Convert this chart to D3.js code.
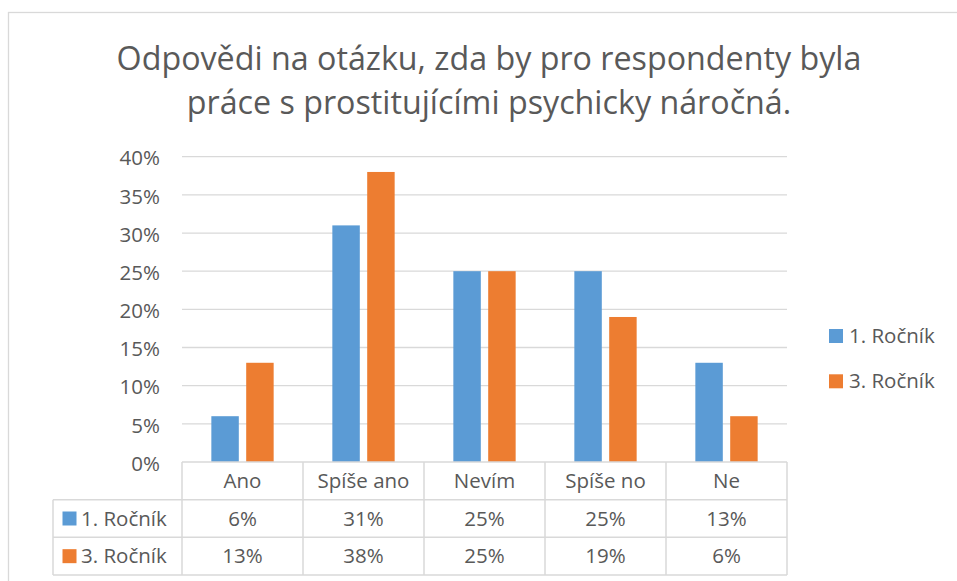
<!DOCTYPE html>
<html>
<head>
<meta charset="utf-8">
<script src="https://cdn.jsdelivr.net/npm/d3@7"></script>
<style>
  body { margin: 0; background: #fff; }
  text { font-family: "Open Sans", "Noto Sans", sans-serif; fill: #595959; }
</style>
</head>
<body>
<svg width="957" height="581"></svg>
<script>
var titleLines = ["Odpovědi na otázku, zda by pro respondenty byla", "práce s prostitujícími psychicky náročná."];
var categories = ["Ano", "Spíše ano", "Nevím", "Spíše no", "Ne"];
var seriesNames = ["1. Ročník", "3. Ročník"];
var rocnik1 = [6, 31, 25, 25, 13];
var rocnik3 = [13, 38, 25, 19, 6];
var yTicks = [0, 5, 10, 15, 20, 25, 30, 35, 40];
var colors = ["#5b9bd5", "#ed7d31"];

var seriesValues = [rocnik1, rocnik3];

var svg = d3.select("svg"),
    grid = "#d9d9d9",
    plotLeft = 182, plotRight = 787, plotTop = 156.7, plotBottom = 462,
    tableLeft = 53, tableBottom = 575;

// chart area border
svg.append("rect")
    .attr("x", 8.5).attr("y", 12.5)
    .attr("width", 1200).attr("height", 1200)
    .attr("fill", "none")
    .attr("stroke", grid)
    .attr("stroke-width", 1.3);

// title, scaled to the width of the original
var title = svg.append("g");
var t1 = title.append("text")
    .attr("x", 489).attr("y", 70)
    .attr("text-anchor", "middle")
    .style("font-size", "32px")
    .text(titleLines[0]);
var fs = 32 * 745 / t1.node().getComputedTextLength();
t1.style("font-size", fs + "px");
title.append("text")
    .attr("x", 489).attr("y", 113.5)
    .attr("text-anchor", "middle")
    .style("font-size", fs + "px")
    .text(titleLines[1]);

var x0 = d3.scaleBand()
    .domain(categories)
    .range([plotLeft, plotRight]);

var x1 = d3.scaleBand()
    .domain(seriesNames)
    .range([0, x0.bandwidth()])
    .paddingInner(0.212)
    .paddingOuter(0.842);

var y = d3.scaleLinear()
    .domain([0, 40])
    .range([plotBottom, plotTop]);

// gridlines
svg.append("g")
  .selectAll("line")
  .data(yTicks.filter(function(d) { return d > 0; }))
  .enter().append("line")
    .attr("x1", plotLeft).attr("x2", plotRight)
    .attr("y1", function(d) { return y(d); })
    .attr("y2", function(d) { return y(d); })
    .attr("stroke", grid)
    .attr("stroke-width", 1.3);

// y axis labels
var yAxis = svg.append("g")
    .attr("transform", "translate(" + 160 + ",0)")
    .call(d3.axisLeft(y).tickValues(yTicks).tickSize(0).tickPadding(0)
      .tickFormat(function(d) { return d + "%"; }));
yAxis.select(".domain").remove();
yAxis.selectAll("text")
    .attr("dy", "0.4em")
    .attr("fill", null)
    .style("font-size", "20.5px");

// bars
svg.append("g")
  .selectAll("g")
  .data(seriesNames)
  .enter().append("g")
    .attr("fill", function(d, i) { return colors[i]; })
  .selectAll("rect")
  .data(function(s, i) {
    return categories.map(function(c, j) { return {cat: c, s: s, v: seriesValues[i][j]}; });
  })
  .enter().append("rect")
    .attr("x", function(d) { return x0(d.cat) + x1(d.s); })
    .attr("width", x1.bandwidth())
    .attr("y", function(d) { return y(d.v); })
    .attr("height", function(d) { return y(0) - y(d.v); });

// data table
var rows = d3.scaleBand()
    .domain(["header"].concat(seriesNames))
    .range([plotBottom, tableBottom]);

var table = svg.append("g")
    .attr("stroke", grid)
    .attr("stroke-width", 1.5);

table.append("line")
    .attr("x1", plotLeft).attr("x2", plotRight)
    .attr("y1", plotBottom).attr("y2", plotBottom);

table.selectAll(".hrow")
  .data(seriesNames)
  .enter().append("line")
    .attr("x1", tableLeft).attr("x2", plotRight)
    .attr("y1", function(d) { return rows(d); })
    .attr("y2", function(d) { return rows(d); });

table.append("line")
    .attr("x1", tableLeft).attr("x2", plotRight)
    .attr("y1", tableBottom).attr("y2", tableBottom);

table.append("line")
    .attr("x1", tableLeft).attr("x2", tableLeft)
    .attr("y1", rows(seriesNames[0])).attr("y2", tableBottom);

table.selectAll(".vcol")
  .data(categories.map(function(c) { return x0(c); }).concat([plotRight]))
  .enter().append("line")
    .attr("x1", function(d) { return d; })
    .attr("x2", function(d) { return d; })
    .attr("y1", plotBottom).attr("y2", tableBottom);

var rowMid = function(r) { return rows(r) + rows.bandwidth() / 2; };

// header labels
svg.append("g")
  .selectAll("text")
  .data(categories)
  .enter().append("text")
    .attr("x", function(d) { return x0(d) + x0.bandwidth() / 2; })
    .attr("y", rowMid("header"))
    .attr("dy", "0.35em")
    .attr("text-anchor", "middle")
    .style("font-size", "20.5px")
    .text(function(d) { return d; });

// row labels with keys
var rowLab = svg.append("g")
  .selectAll("g")
  .data(seriesNames)
  .enter().append("g");
rowLab.append("rect")
    .attr("x", 62.5)
    .attr("y", function(d) { return rowMid(d) - 7; })
    .attr("width", 14).attr("height", 14)
    .attr("fill", function(d, i) { return colors[i]; });
rowLab.append("text")
    .attr("x", 81)
    .attr("y", function(d) { return rowMid(d); })
    .attr("dy", "0.35em")
    .style("font-size", "20.5px")
    .text(function(d) { return d; });

// values
seriesNames.forEach(function(s, i) {
  svg.append("g")
    .selectAll("text")
    .data(seriesValues[i])
    .enter().append("text")
      .attr("x", function(d, j) { return x0(categories[j]) + x0.bandwidth() / 2; })
      .attr("y", rowMid(s))
      .attr("dy", "0.35em")
      .attr("text-anchor", "middle")
      .style("font-size", "20.5px")
      .text(function(d) { return d + "%"; });
});

// legend
var legend = svg.append("g")
  .selectAll("g")
  .data(seriesNames)
  .enter().append("g")
    .attr("transform", function(d, i) { return "translate(829," + (329 + i * 45.3) + ")"; });
legend.append("rect")
    .attr("width", 14).attr("height", 14)
    .attr("fill", function(d, i) { return colors[i]; });
legend.append("text")
    .attr("x", 20).attr("y", 7)
    .attr("dy", "0.35em")
    .style("font-size", "20.5px")
    .text(function(d) { return d; });
</script>
</body>
</html>
